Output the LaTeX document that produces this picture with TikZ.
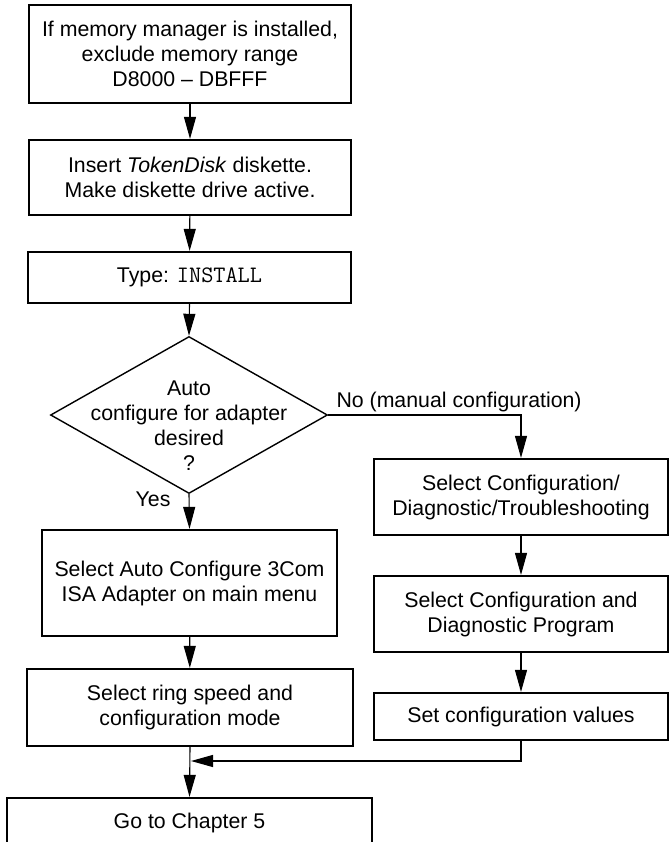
\documentclass[tikz,border=0pt]{standalone}
\usepackage{fontspec}
\setmainfont{Liberation Sans}
\usetikzlibrary{arrows.meta,shapes.geometric}

\begin{document}
\begin{tikzpicture}[x=1pt,y=-1pt,
		font=\fontsize{21.3}{25}\selectfont,
		kasten/.style={draw,line width=2.2pt,inner sep=0pt,align=center},
		pfeil/.style={line width=1.1pt,-{Triangle[length=22pt,width=12pt]}}]
		% Rahmen
		\useasboundingbox (0,0) rectangle (670,842);
		\clip (0,0) rectangle (670,842);
		
		% Linke Spalte
		\node[kasten,minimum width=322pt,minimum height=98pt] (S1) at (190,54)
			{If memory manager is installed,\\exclude memory range\\D8000 \textendash{} DBFFF};
		\node[kasten,minimum width=322pt,minimum height=75pt] (S2) at (190,177.5)
			{Insert \textit{TokenDisk} diskette.\\Make diskette drive active.};
		\node[kasten,minimum width=323pt,minimum height=51pt] (S3) at (189.5,277.5)
			{Type: {\ttfamily\fontsize{23.6}{25}\selectfont INSTALL}};
		
		% Entscheidung
		\node[diamond,draw,line width=1.4pt,inner sep=0pt,
			minimum width=277pt,minimum height=157pt] (D) at (189,415) {};
		\node[align=center] (Dtext) at (189,426) {Auto\\configure for adapter\\desired\\?};
		\node[anchor=base west] (nein) at (333,407) {No (manual configuration)};
		\node[anchor=base east] (ja) at (174,506) {Yes};
		
		\node[kasten,minimum width=295pt,minimum height=106pt] (S4) at (189.5,583)
			{Select Auto Configure 3Com\\ISA Adapter on main menu};
		\node[kasten,minimum width=326pt,minimum height=77pt] (S5) at (190,707.5)
			{Select ring speed and\\configuration mode};
		\node[kasten,minimum width=365pt,minimum height=50pt] (S6) at (189.5,823)
			{Go to Chapter 5};
		
		% Rechte Spalte
		\node[kasten,minimum width=294pt,minimum height=76pt] (R1) at (521,497)
			{Select Configuration/\\Diagnostic/Troubleshooting};
		\node[kasten,minimum width=294pt,minimum height=76pt] (R2) at (521,614)
			{Select Configuration and\\Diagnostic Program};
		\node[kasten,minimum width=294pt,minimum height=47pt] (R3) at (521,716.5)
			{Set configuration values};
		
		% Pfeile
		\coordinate (M) at (191,761);
		\draw[pfeil] (S1) -- (S2);
		\draw[pfeil] (S2) -- (S3);
		\draw[pfeil] (S3.south) -- (D.north);
		\draw[pfeil] (D.south) -- (S4.north);
		\draw[pfeil] (S4) -- (S5);
		\draw[pfeil] (S5.south) -- (S6.north);
		\draw[pfeil] (D.east) -| (R1.north);
		\draw[pfeil] (R1) -- (R2);
		\draw[pfeil] (R2) -- (R3);
		\draw[pfeil] (R3.south) |- (M);
	\end{tikzpicture}
\end{document}
